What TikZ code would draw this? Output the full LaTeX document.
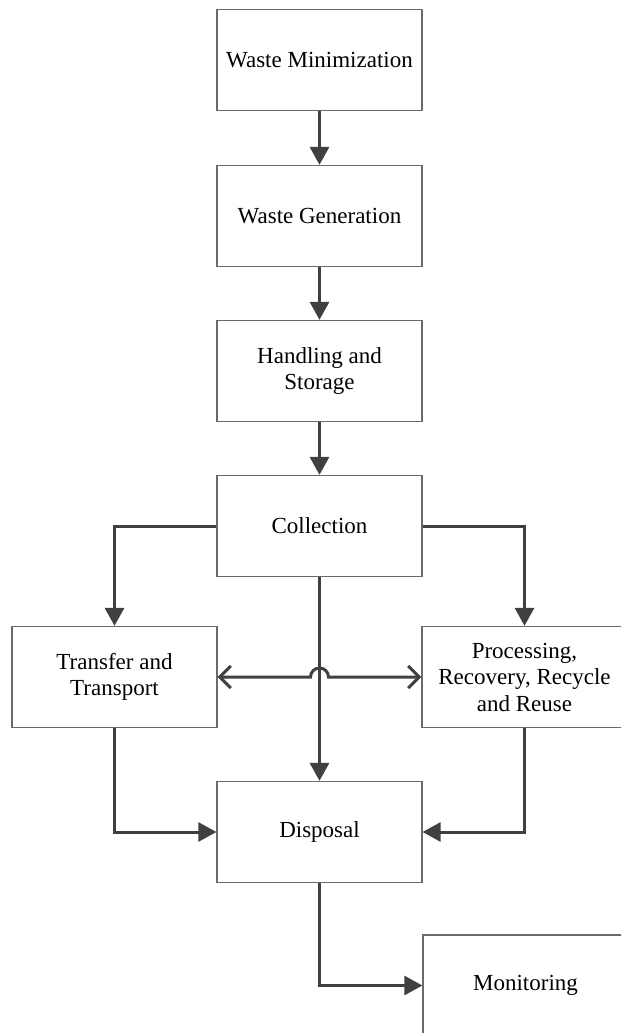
\documentclass[tikz,border=0pt]{standalone}
\usepackage{fontspec}
\setmainfont{Liberation Serif}
\usetikzlibrary{arrows.meta}
\definecolor{lineclr}{HTML}{404040}
\definecolor{boxclr}{HTML}{6A6A6A}
\begin{document}
\begin{tikzpicture}[x=1pt,y=-1pt,
  flowbox/.style={draw=boxclr, line width=1.3pt, minimum width=205pt, minimum height=101pt,
    align=center, inner sep=2pt, font=\fontsize{23}{26.5}\selectfont},
  flow/.style={draw=lineclr, line width=3pt, -{Triangle[length=18pt,width=19pt]}},
  both/.style={draw=lineclr, line width=3pt, {Straight Barb[length=11pt,width=22pt,line width=3pt]}-{Straight Barb[length=11pt,width=22pt,line width=3pt]}}
]
\useasboundingbox (0,0) rectangle (621,1033);
\fill[white] (0,0) rectangle (621,1033);
\clip (0,0) rectangle (621,1033);

\node[flowbox] (wm) at (319.5,60) {Waste Minimization};
\node[flowbox] (wg) at (319.5,216) {Waste Generation};
\node[flowbox] (hs) at (319.5,371) {Handling and\\Storage};
\node[flowbox] (co) at (319.5,526) {Collection};
\node[flowbox] (tt) at (114.5,677) {Transfer and\\Transport};
\node[flowbox] (pr) at (524.5,677) {Processing,\\Recovery, Recycle\\and Reuse};
\node[flowbox] (di) at (319.5,832) {Disposal};
\node[flowbox] (mo) at (525.5,985.5) {Monitoring};

\draw[flow] (wm) -- (wg);
\draw[flow] (wg) -- (hs);
\draw[flow] (hs) -- (co);
\draw[flow] (co.west) -| (tt.north);
\draw[flow] (co.east) -| (pr.north);
\draw[flow] (co.south) -- (di.north);
\coordinate (hopl) at (310.5,677);
\draw[both] (tt.east) -- (hopl) arc[start angle=180, end angle=0, radius=9pt] -- (pr.west);
\draw[flow] (tt.south) |- (di.west);
\draw[flow] (pr.south) |- (di.east);
\draw[flow] (di.south) |- (mo.west);
\end{tikzpicture}
\end{document}
